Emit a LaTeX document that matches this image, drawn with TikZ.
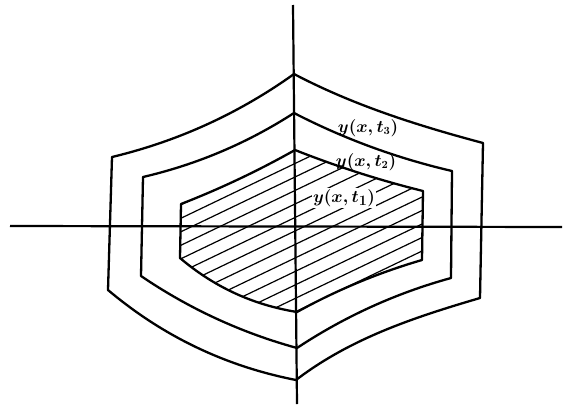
\documentclass[tikz,border=0pt]{standalone}
\usetikzlibrary{calc}
\begin{document}
\begin{tikzpicture}[x=1pt,y=-1pt,
  curve/.style={line width=2.3pt,line join=round},
  axis/.style={line width=2.2pt},
  hatch/.style={line width=1.2pt},
  lab/.style={font=\fontsize{16}{18}\selectfont\boldmath, inner sep=1pt},
  labbig/.style={font=\fontsize{19}{22}\selectfont\boldmath, inner sep=1.5pt, fill=white}]
\useasboundingbox (0,0) rectangle (565,407);
\fill[white] (0,0) rectangle (565,407);
% outer contour t3
\coordinate (A3) at (294,74);
\coordinate (B3) at (483,143);
\coordinate (C3) at (480,298);
\coordinate (D3) at (296,380);
\coordinate (E3) at (108,290);
\coordinate (F3) at (112,157);
% middle contour t2
\coordinate (A2) at (294,113);
\coordinate (B2) at (452,171);
\coordinate (C2) at (451,278);
\coordinate (D2) at (297,348);
\coordinate (E2) at (141,276);
\coordinate (F2) at (143,177);
% inner contour t1
\coordinate (A1) at (295,150);
\coordinate (B1) at (423,191);
\coordinate (C1) at (422,260);
\coordinate (D1) at (297,312);
\coordinate (E1) at (180,258);
\coordinate (F1) at (181,204);
% axes
\coordinate (hl) at (10,226);
\coordinate (hr) at (562,227);
\coordinate (vt) at (293,5);
\coordinate (vb) at (297,404);

% hatching of inner region
\begin{scope}
\clip (A1) .. controls ($(A1)!1/3!(B1)!3pt!-90:(B1)$) and ($(A1)!2/3!(B1)!3pt!-90:(B1)$) .. (B1)
  -- (C1) .. controls ($(C1)!1/3!(D1)!5pt!-90:(D1)$) and ($(C1)!2/3!(D1)!5pt!-90:(D1)$) .. (D1)
  .. controls ($(D1)!1/3!(E1)!12pt!90:(E1)$) and ($(D1)!2/3!(E1)!12pt!90:(E1)$) .. (E1)
  -- (F1) .. controls ($(F1)!1/3!(A1)!3pt!-90:(A1)$) and ($(F1)!2/3!(A1)!3pt!-90:(A1)$) .. (A1) -- cycle;
\foreach \k in {-1,...,13}
  \draw[hatch] (160,{150+13.5*\k+64.8}) -- (440,{150+13.5*\k-69.6});
\end{scope}

% axes
\draw[axis] (hl) -- (hr);
\draw[axis] (vt) -- (vb);

% outer
\draw[curve] (A3) .. controls ($(A3)!1/3!(B3)!9pt!-90:(B3)$) and ($(A3)!2/3!(B3)!6pt!-90:(B3)$) .. (B3)
  -- (C3) .. controls ($(C3)!1/3!(D3)!9pt!-90:(D3)$) and ($(C3)!2/3!(D3)!16pt!-90:(D3)$) .. (D3)
  .. controls ($(D3)!1/3!(E3)!18pt!90:(E3)$) and ($(D3)!2/3!(E3)!18pt!90:(E3)$) .. (E3)
  -- (F3) .. controls ($(F3)!1/3!(A3)!13pt!-90:(A3)$) and ($(F3)!2/3!(A3)!13pt!-90:(A3)$) .. (A3) -- cycle;
% middle
\draw[curve] (A2) .. controls ($(A2)!1/3!(B2)!7pt!-90:(B2)$) and ($(A2)!2/3!(B2)!7pt!-90:(B2)$) .. (B2)
  -- (C2) .. controls ($(C2)!1/3!(D2)!9pt!-90:(D2)$) and ($(C2)!2/3!(D2)!9pt!-90:(D2)$) .. (D2)
  .. controls ($(D2)!1/3!(E2)!9.5pt!90:(E2)$) and ($(D2)!2/3!(E2)!9.5pt!90:(E2)$) .. (E2)
  -- (F2) .. controls ($(F2)!1/3!(A2)!9.5pt!-90:(A2)$) and ($(F2)!2/3!(A2)!9.5pt!-90:(A2)$) .. (A2) -- cycle;
% inner
\draw[curve] (A1) .. controls ($(A1)!1/3!(B1)!3pt!-90:(B1)$) and ($(A1)!2/3!(B1)!3pt!-90:(B1)$) .. (B1)
  -- (C1) .. controls ($(C1)!1/3!(D1)!5pt!-90:(D1)$) and ($(C1)!2/3!(D1)!5pt!-90:(D1)$) .. (D1)
  .. controls ($(D1)!1/3!(E1)!12pt!90:(E1)$) and ($(D1)!2/3!(E1)!12pt!90:(E1)$) .. (E1)
  -- (F1) .. controls ($(F1)!1/3!(A1)!3pt!-90:(A1)$) and ($(F1)!2/3!(A1)!3pt!-90:(A1)$) .. (A1) -- cycle;

% labels
\node[lab] (l3) at (368,128) {$y(x,t_3)$};
\node[lab] (l2) at (366,162) {$y(x,t_2)$};
\node[labbig] (l1) at (344,198) {$y(x,t_1)$};
\end{tikzpicture}
\end{document}
